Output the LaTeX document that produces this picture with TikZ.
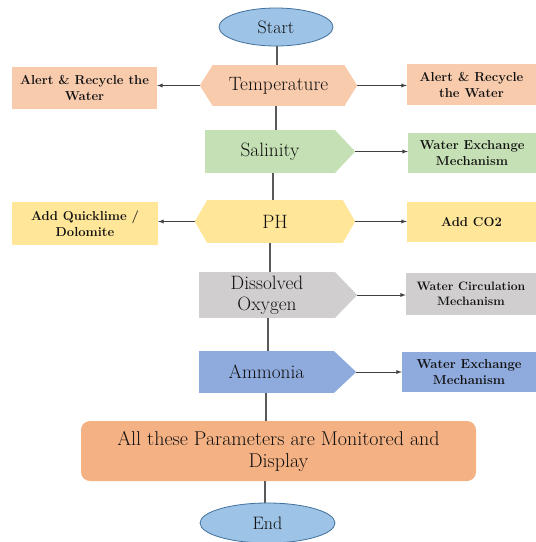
\documentclass[tikz,border=0pt]{standalone}
\usepackage{fontspec}
\usetikzlibrary{shapes.geometric}
\definecolor{ovalc}{HTML}{9DC3E6}
\definecolor{ovalb}{HTML}{41719C}
\definecolor{peach}{HTML}{F8CBAD}
\definecolor{salc}{HTML}{C5E0B4}
\definecolor{yel}{HTML}{FFE699}
\definecolor{greyc}{HTML}{D0CECE}
\definecolor{blu}{HTML}{8FAADC}
\definecolor{orng}{HTML}{F4B183}
\definecolor{txt}{HTML}{111111}
\definecolor{lnc}{HTML}{595959}
\definecolor{arc}{HTML}{404040}
\begin{document}
\begin{tikzpicture}[x=1pt,y=-1pt]
\tikzset{
  mainbox/.style={rectangle,inner sep=0pt,text=txt,align=center,font=\fontsize{19.3}{21}\selectfont},
  sidebox/.style={rectangle,inner sep=0pt,text=txt,align=center,font=\bfseries\fontsize{13}{16}\selectfont},
  oval/.style={ellipse,inner sep=0pt,fill=ovalc,draw=ovalb,line width=0.8pt,text=txt,font=\fontsize{18}{20}\selectfont},
  vline/.style={draw=lnc,line width=1.2pt},
  arr/.style={draw=arc,line width=0.9pt,-latex}
}
\useasboundingbox (0,0) rectangle (536,542);
% main column
\node[oval,minimum width=114pt,minimum height=38pt] (start) at (276,27) {Start};
\node[mainbox,fill=peach,minimum width=132pt,minimum height=41pt] (temp) at (278.5,85.5) {Temperature};
\node[mainbox,fill=salc,minimum width=130pt,minimum height=43pt] (sal) at (270,151.5) {Salinity};
\node[mainbox,fill=yel,minimum width=136pt,minimum height=43pt] (ph) at (275,221.5) {PH};
\node[mainbox,fill=greyc,minimum width=136pt,minimum height=46pt] (dox) at (267,295) {Dissolved\\Oxygen};
\node[mainbox,fill=blu,minimum width=135pt,minimum height=42pt] (amm) at (266.5,372) {Ammonia};
\node[mainbox,fill=orng,rounded corners=9pt,minimum width=395pt,minimum height=60pt,font=\fontsize{20}{22}\selectfont] (mon) at (278.5,451) {All these Parameters are Monitored and\\Display};
\node[oval,minimum width=135pt,minimum height=40pt] (stop) at (267.5,523) {End};
% side boxes
\node[sidebox,fill=peach,minimum width=145pt,minimum height=42pt] (tl) at (84.5,88) {Alert \& Recycle the\\Water};
\node[sidebox,fill=peach,minimum width=129pt,minimum height=41pt] (tr) at (471.5,84.5) {Alert \& Recycle\\the Water};
\node[sidebox,fill=salc,minimum width=128pt,minimum height=40pt] (sr) at (472,153) {Water Exchange\\Mechanism};
\node[sidebox,fill=yel,minimum width=146pt,minimum height=43pt] (pl) at (85,223.5) {Add Quicklime /\\Dolomite};
\node[sidebox,fill=yel,minimum width=129pt,minimum height=40pt] (pr) at (471.5,222) {Add CO2};
\node[sidebox,fill=greyc,minimum width=130pt,minimum height=42pt,font=\bfseries\fontsize{12.2}{15.5}\selectfont] (dr) at (471,294) {Water Circulation\\Mechanism};
\node[sidebox,fill=blu,minimum width=134pt,minimum height=40pt] (ar) at (469,372) {Water Exchange\\Mechanism};
% pointer tips
\coordinate (tempW) at ([xshift=-12.5pt]temp.west);
\coordinate (tempE) at ([xshift=12.5pt]temp.east);
\coordinate (salE) at ([xshift=20pt]sal.east);
\coordinate (phW) at ([xshift=-12pt]ph.west);
\coordinate (phE) at ([xshift=12pt]ph.east);
\coordinate (doxE) at ([xshift=22pt]dox.east);
\coordinate (ammE) at ([xshift=22pt]amm.east);
\fill[peach] ([xshift=0.5pt]temp.north west) -- (tempW) -- ([xshift=0.5pt]temp.south west) -- cycle;
\fill[peach] ([xshift=-0.5pt]temp.north east) -- (tempE) -- ([xshift=-0.5pt]temp.south east) -- cycle;
\fill[salc] ([xshift=-0.5pt]sal.north east) -- (salE) -- ([xshift=-0.5pt]sal.south east) -- cycle;
\fill[yel] ([xshift=0.5pt]ph.north west) -- (phW) -- ([xshift=0.5pt]ph.south west) -- cycle;
\fill[yel] ([xshift=-0.5pt]ph.north east) -- (phE) -- ([xshift=-0.5pt]ph.south east) -- cycle;
\fill[greyc] ([xshift=-0.5pt]dox.north east) -- (doxE) -- ([xshift=-0.5pt]dox.south east) -- cycle;
\fill[blu] ([xshift=-0.5pt]amm.north east) -- (ammE) -- ([xshift=-0.5pt]amm.south east) -- cycle;
% vertical connectors
\draw[vline] ([xshift=1pt]start.south) -- ([xshift=1pt]start.south |- temp.north);
\draw[vline] ([xshift=-2.5pt]temp.south) -- ([xshift=-2.5pt]temp.south |- sal.north);
\draw[vline] ([xshift=3pt]sal.south) -- ([xshift=3pt]sal.south |- ph.north);
\draw[vline] ([xshift=-5pt]ph.south) -- ([xshift=-5pt]ph.south |- dox.north);
\draw[vline] ([xshift=1pt]dox.south) -- ([xshift=1pt]dox.south |- amm.north);
\draw[vline] ([xshift=-0.5pt]amm.south) -- ([xshift=-0.5pt]amm.south |- mon.north);
\draw[vline] ([xshift=-13.5pt]mon.south) -- ([xshift=-13.5pt]mon.south |- stop.north);
% side arrows
\draw[arr] (tempW) -- (tempW -| tl.east);
\draw[arr] (tempE) -- (tempE -| tr.west);
\draw[arr] (salE) -- (salE -| sr.west);
\draw[arr] (phW) -- (phW -| pl.east);
\draw[arr] (phE) -- (phE -| pr.west);
\draw[arr] (doxE) -- (doxE -| dr.west);
\draw[arr] (ammE) -- (ammE -| ar.west);
\end{tikzpicture}
\end{document}
